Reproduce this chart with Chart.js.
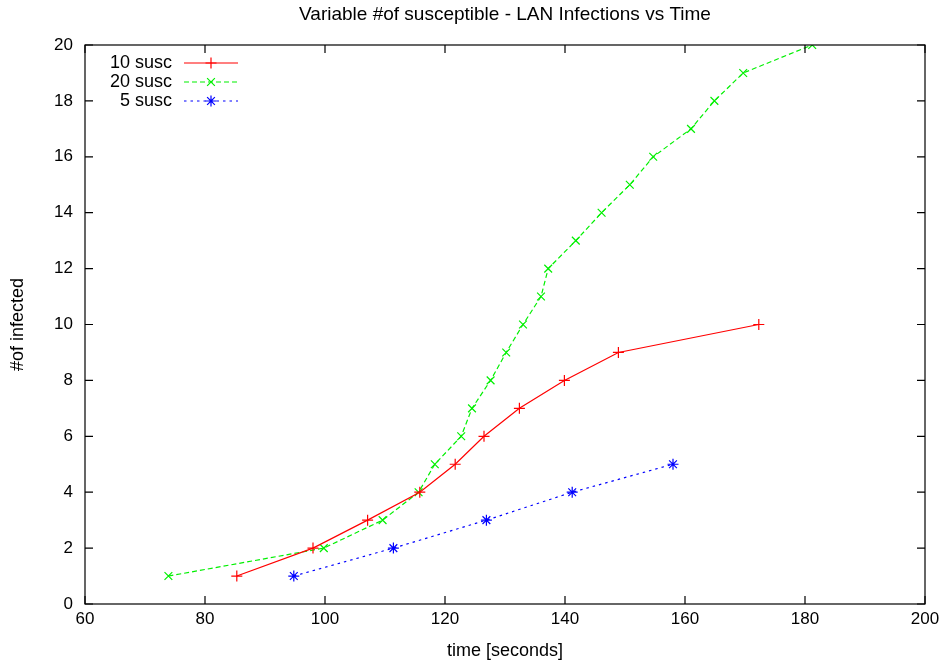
<!DOCTYPE html>
<html>
<head>
<meta charset="utf-8">
<script src="https://cdn.jsdelivr.net/npm/chart.js@4/dist/chart.umd.min.js"></script>
<style>
  html, body { margin: 0; padding: 0; background: #fff; }
  #wrap { width: 948px; height: 665px; position: relative; }
</style>
</head>
<body>
<div id="wrap"><canvas id="chart"></canvas></div>
<script>
// =====================
// DATA
// =====================
const seriesNames = ["10 susc", "20 susc", "5 susc"];

const susc10Time = [85.3, 98.0, 107.1, 115.8, 121.7, 126.5, 132.4, 139.9, 148.9, 172.3];
const susc10Inf  = [1, 2, 3, 4, 5, 6, 7, 8, 9, 10];

const susc20Time = [73.9, 99.8, 109.6, 115.6, 118.3, 122.7, 124.5, 127.6, 130.2, 133.0,
                    136.0, 137.2, 141.8, 146.1, 150.8, 154.7, 161.0, 164.9, 169.7, 181.2];
const susc20Inf  = [1, 2, 3, 4, 5, 6, 7, 8, 9, 10, 11, 12, 13, 14, 15, 16, 17, 18, 19, 20];

const susc5Time = [94.8, 111.4, 126.9, 141.2, 158.0];
const susc5Inf  = [1, 2, 3, 4, 5];

const xTicks = [60, 80, 100, 120, 140, 160, 180, 200];
const yTicks = [0, 2, 4, 6, 8, 10, 12, 14, 16, 18, 20];

const titleText = "Variable #of susceptible - LAN Infections vs Time";
const xTitle = "time [seconds]";
const yTitle = "#of infected";

const FONT = "'Liberation Sans', Arial, Helvetica, sans-serif";

function toPoints(xs, ys) {
  return xs.map((x, i) => ({ x: x, y: ys[i] }));
}

// =====================
// PLUGIN: gnuplot style frame, ticks, titles, key
// =====================
const gnuFrame = {
  id: "gnuFrame",
  afterDraw(chart) {
    const ctx = chart.ctx;
    const a = chart.chartArea;
    const xs = chart.scales.x, ys = chart.scales.y;
    ctx.save();

    // border
    ctx.strokeStyle = "#000";
    ctx.lineWidth = 1.2;
    ctx.strokeRect(a.left, a.top, a.right - a.left, a.bottom - a.top);

    // inward ticks, mirrored on top and right
    const tl = 8;
    ctx.beginPath();
    xTicks.forEach(v => {
      const px = xs.getPixelForValue(v);
      ctx.moveTo(px, a.bottom); ctx.lineTo(px, a.bottom - tl);
      ctx.moveTo(px, a.top); ctx.lineTo(px, a.top + tl);
    });
    yTicks.forEach(v => {
      const py = ys.getPixelForValue(v);
      ctx.moveTo(a.left, py); ctx.lineTo(a.left + tl, py);
      ctx.moveTo(a.right, py); ctx.lineTo(a.right - tl, py);
    });
    ctx.stroke();

    // titles
    ctx.fillStyle = "#000";
    ctx.textAlign = "center";
    ctx.textBaseline = "middle";
    ctx.font = "19px " + FONT;
    ctx.fillText(titleText, (a.left + a.right) / 2, 15);
    ctx.font = "18px " + FONT;
    ctx.fillText(xTitle, (a.left + a.right) / 2, 651);
    ctx.save();
    ctx.translate(18, (a.top + a.bottom) / 2);
    ctx.rotate(-Math.PI / 2);
    ctx.fillText(yTitle, 0, 0);
    ctx.restore();

    // key: text left of the sample, like gnuplot
    const rows = [63, 82, 101];
    chart.data.datasets.forEach((ds, i) => {
      const y = rows[i];
      ctx.font = "18px " + FONT;
      ctx.textAlign = "right";
      ctx.textBaseline = "middle";
      ctx.fillStyle = "#000";
      ctx.fillText(ds.label, 172, y);

      ctx.save();
      ctx.strokeStyle = ds.borderColor;
      ctx.fillStyle = ds.borderColor;
      ctx.lineWidth = ds.borderWidth;
      ctx.setLineDash(ds.borderDash || []);
      ctx.beginPath();
      ctx.moveTo(184, y); ctx.lineTo(238, y);
      ctx.stroke();
      ctx.setLineDash([]);
      Chart.helpers.drawPoint(ctx, {
        pointStyle: ds.pointStyle,
        radius: ds.pointRadius,
        borderWidth: ds.pointBorderWidth,
        rotation: 0
      }, 211, y);
      ctx.restore();
    });
    ctx.restore();
  }
};

function makeSet(label, xs, ys, color, dash, style) {
  return {
    label: label,
    data: toPoints(xs, ys),
    showLine: true,
    borderColor: color,
    backgroundColor: color,
    borderWidth: 1.2,
    borderDash: dash,
    pointStyle: style,
    pointRadius: 5.5,
    pointHoverRadius: 5.5,
    pointBorderWidth: 1.2,
    pointBorderColor: color,
    tension: 0
  };
}

const chart = new Chart(document.getElementById("chart").getContext("2d"), {
  type: "scatter",
  data: {
    datasets: [
      makeSet(seriesNames[0], susc10Time, susc10Inf, "#ff0000", [], "cross"),
      makeSet(seriesNames[1], susc20Time, susc20Inf, "#00f000", [5, 3], "crossRot"),
      makeSet(seriesNames[2], susc5Time, susc5Inf, "#0000ff", [2.5, 4], "star")
    ]
  },
  options: {
    responsive: true,
    maintainAspectRatio: false,
    animation: false,
    events: [],
    layout: { padding: { left: 0, right: 23, top: 45, bottom: 0 } },
    plugins: {
      legend: { display: false },
      title: { display: false },
      tooltip: { enabled: false }
    },
    scales: {
      x: {
        type: "linear",
        min: 60, max: 200,
        grid: { display: false, drawTicks: false },
        border: { display: false },
        afterBuildTicks: s => { s.ticks = xTicks.map(v => ({ value: v })); },
        afterFit: s => { s.height = 61; },
        ticks: { color: "#000", padding: 5, font: { family: FONT, size: 17 }, maxRotation: 0 }
      },
      y: {
        type: "linear",
        min: 0, max: 20,
        grid: { display: false, drawTicks: false },
        border: { display: false },
        afterBuildTicks: s => { s.ticks = yTicks.map(v => ({ value: v })); },
        afterFit: s => { s.width = 85; },
        ticks: { color: "#000", padding: 12, font: { family: FONT, size: 17 } }
      }
    }
  },
  plugins: [gnuFrame]
});
</script>
</body>
</html>
